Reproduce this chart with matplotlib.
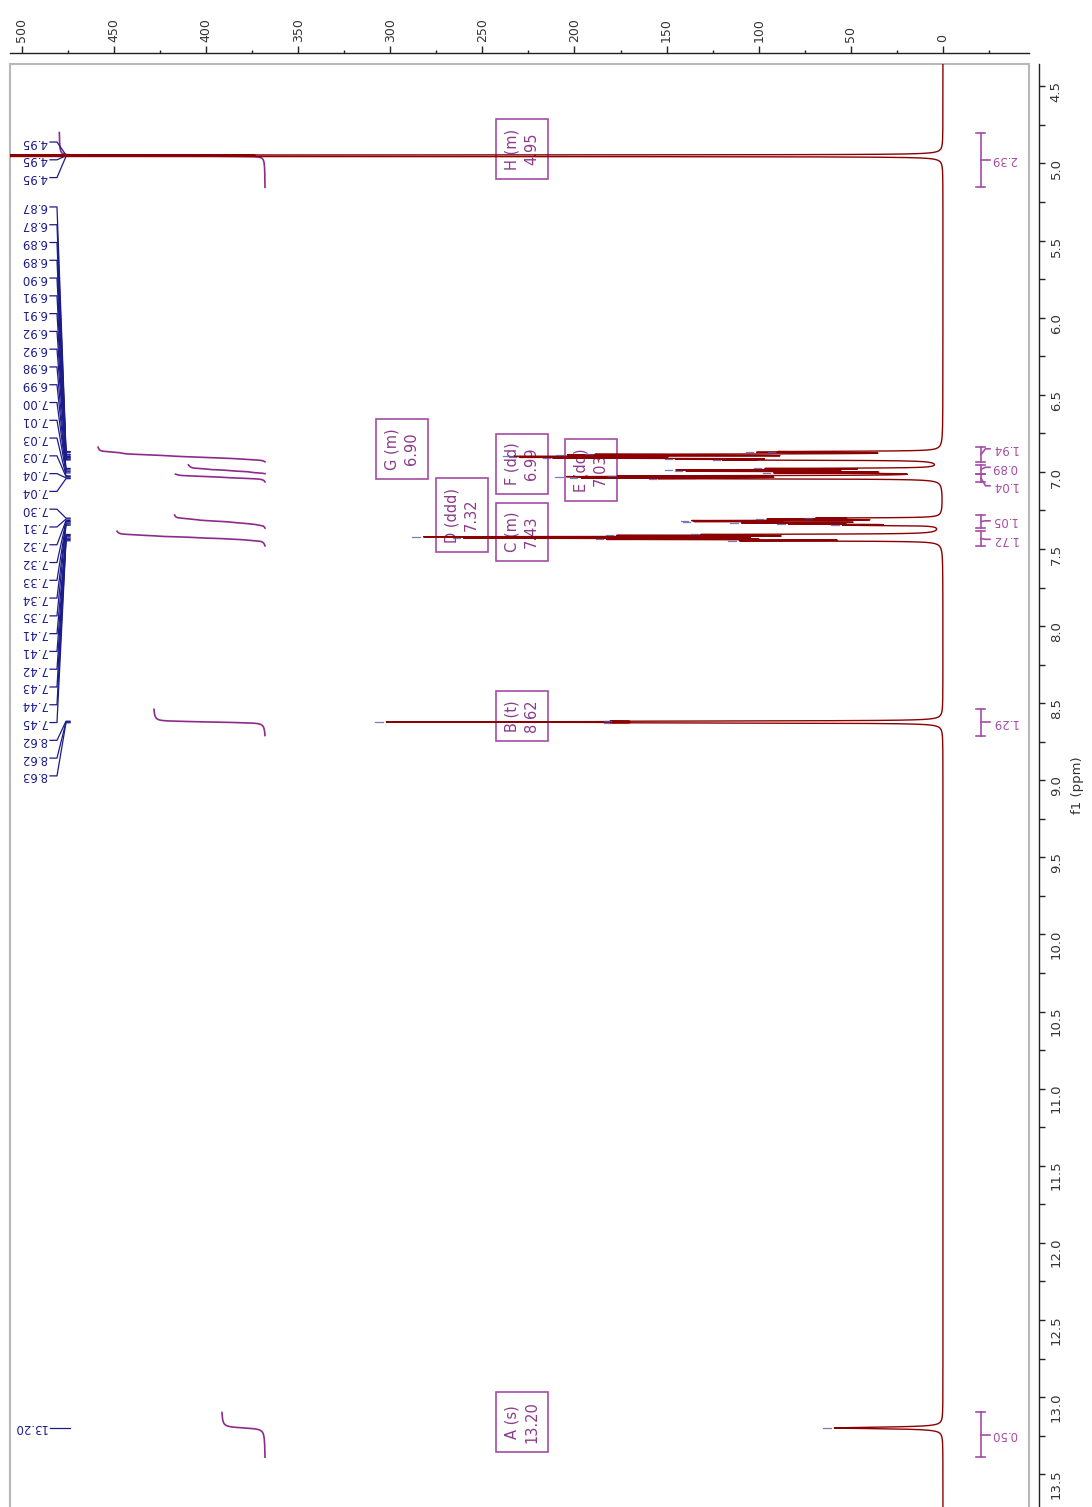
import numpy as np
import matplotlib
matplotlib.use("Agg")
import matplotlib.pyplot as plt
from matplotlib.ticker import MultipleLocator, FormatStrFormatter

# ---------------------------------------------------------------- data ----
# picked peaks: chemical shift (ppm), height (a.u.), Lorentzian half-width (ppm)
peak_shift = [4.946, 4.950, 4.954,
              6.868, 6.873, 6.886, 6.891, 6.900, 6.906, 6.911, 6.918, 6.923,
              6.978, 6.987, 6.996, 7.007,
              7.026, 7.031, 7.039, 7.044,
              7.300, 7.306, 7.316, 7.322, 7.331, 7.338, 7.346,
              7.406, 7.412, 7.421, 7.430, 7.438, 7.447,
              8.617, 8.622, 8.627,
              13.200]
peak_height = [900, 1800, 900,
               70, 80, 150, 160, 190, 170, 160, 105, 90,
               85, 130, 125, 80,
               140, 165, 160, 120,
               55, 80, 115, 112, 92, 68, 45,
               105, 145, 255, 230, 155, 95,
               130, 260, 130,
               59]
peak_width = [0.0008, 0.0008, 0.0008,
              0.0022, 0.0022, 0.0022, 0.0022, 0.0022, 0.0022, 0.0022, 0.0022, 0.0022,
              0.0022, 0.0022, 0.0022, 0.0022,
              0.0022, 0.0022, 0.0022, 0.0022,
              0.0022, 0.0022, 0.0022, 0.0022, 0.0022, 0.0022, 0.0022,
              0.0022, 0.0022, 0.0022, 0.0022, 0.0022, 0.0022,
              0.0022, 0.0022, 0.0022,
              0.006]

# multiplet analysis
mult_label = ["A", "B", "C", "D", "E", "F", "G", "H"]
mult_type = ["s", "t", "m", "ddd", "dd", "dd", "m", "m"]
mult_shift = [13.20, 8.62, 7.43, 7.32, 7.03, 6.99, 6.90, 4.95]
mult_integral = [0.50, 1.29, 1.72, 1.05, 1.04, 0.89, 1.94, 2.39]
int_from = [13.10, 8.54, 7.385, 7.28, 7.015, 6.955, 6.84, 4.80]
int_to = [13.39, 8.71, 7.48, 7.365, 7.065, 7.012, 6.935, 5.155]

# ------------------------------------------------------------- layout ----
W, H, DPI = 1092, 1507, 100
XLIM = (506.4, -46.7)          # intensity, drawn right-to-left
YLIM = (13.713, 4.355)         # ppm, drawn top-to-bottom

spec_color = "#8b0000"
int_color = "#8e2a8e"
box_edge = "#a64ca6"
box_text = "#8b3a8b"
navy = "#1b1b8a"
marker_blue = "#5a5aa8"
frame_grey = "#b8b8b8"

box_pos = {"A": (228.5, 13.161), "B": (228.5, 8.583), "C": (228.5, 7.390),
           "D": (261.1, 7.280), "E": (191.1, 6.988), "F": (228.5, 6.949),
           "G": (293.6, 6.851), "H": (228.5, 4.906)}

int_base = 368.0      # intensity level of the integral traces' zero
int_scale = 46.7      # intensity units per integral unit

brk_x, brk_cap, brk_tick, brk_text = -20.6, 2.4, -25.5, -26.1

pick_text_x = 486.3
pick_path_x = [484.7, 480.9, 476.0, 473.8]
pick_first = [4.861, 5.282, 13.200]   # first label position of each label column
pick_step = 0.1153


def spread(vals, gap):
    """Spread sorted positions so neighbours are at least `gap` apart."""
    groups = [[v] for v in vals]
    merged = True
    while merged:
        merged = False
        out = [groups[0]]
        for g in groups[1:]:
            prev = out[-1]
            p_end = np.mean(prev) + gap * (len(prev) - 1) / 2
            g_start = np.mean(g) - gap * (len(g) - 1) / 2
            if g_start - p_end < gap:
                out[-1] = prev + g
                merged = True
            else:
                out.append(g)
        groups = out
    pos = []
    for g in groups:
        c = np.mean(g)
        pos += list(c + gap * (np.arange(len(g)) - (len(g) - 1) / 2))
    return pos


# ------------------------------------------------------------ spectrum ----
grid = np.union1d(np.arange(4.30, 13.80, 0.0002), np.array(peak_shift))
spec = np.zeros_like(grid)
for p, h, w in zip(peak_shift, peak_height, peak_width):
    spec += h * w ** 2 / ((grid - p) ** 2 + w ** 2)

fig = plt.figure(figsize=(W / DPI, H / DPI), dpi=DPI)
ax = fig.add_axes([10 / W, 0, 1019 / W, (H - 64) / H])

ax.plot(spec, grid, color=spec_color, lw=1.0, zorder=3)

# integral traces
for val, lo, hi in zip(mult_integral, int_from, int_to):
    m = (grid >= lo) & (grid <= hi)
    g, s = grid[m], spec[m]
    cum = np.concatenate([[0.0], np.cumsum(0.5 * (s[1:] + s[:-1]) * np.diff(g))])
    frac = (cum[-1] - cum) / cum[-1]
    ax.plot(int_base + int_scale * val * frac, g, color=int_color, lw=1.2, zorder=2)

# integral brackets with values
order = np.argsort([(a + b) / 2 for a, b in zip(int_from, int_to)])
mids = [(int_from[i] + int_to[i]) / 2 for i in order]
lab_y = dict(zip(order, spread(mids, 0.12)))
for i, (val, lo, hi) in enumerate(zip(mult_integral, int_from, int_to)):
    mid = (lo + hi) / 2
    kw = dict(color=box_edge, lw=1.2, zorder=2)
    ax.plot([brk_x, brk_x], [lo, hi], **kw)
    ax.plot([brk_x - brk_cap, brk_x + brk_cap], [lo, lo], **kw)
    ax.plot([brk_x - brk_cap, brk_x + brk_cap], [hi, hi], **kw)
    ax.plot([brk_x, brk_x - 2.5, brk_tick], [mid, lab_y[i], lab_y[i]], **kw)
    ax.text(brk_text, lab_y[i], f"{val:.2f}", rotation=180, ha="left",
            va="center", color=box_edge, fontsize=8.5)

# multiplet boxes
for lab, typ, sh in zip(mult_label, mult_type, mult_shift):
    bx, by = box_pos[lab]
    ax.text(bx, by, f"{lab} ({typ})\n{sh:.2f}", rotation=90, ha="center",
            va="center", multialignment="center", fontsize=10.5,
            linespacing=1.35, color=box_text, zorder=2,
            bbox=dict(boxstyle="square,pad=0.62", fc="none", ec=box_edge, lw=1.2))

# peak-picking labels, grouped into columns of stacked labels
sorted_peaks = sorted(peak_shift)
columns = [[sorted_peaks[0]]]
for p in sorted_peaks[1:]:
    if p - columns[-1][-1] > 1.5:
        columns.append([p])
    else:
        columns[-1].append(p)
for col, first in zip(columns, pick_first):
    for k, p in enumerate(col):
        ly = first + k * pick_step
        ax.text(pick_text_x, ly, f"{p:.2f}", rotation=180, ha="right",
                va="center", color=navy, fontsize=8.5)
        ax.plot(pick_path_x, [ly, ly, p, p], color=navy, lw=0.9, zorder=2)

# peak-top markers
for p in peak_shift:
    top = spec[np.searchsorted(grid, p)]
    if top + 6 < XLIM[0]:
        ax.plot([top + 2.0, top + 6.0], [p, p], color=marker_blue, lw=0.9,
                alpha=0.8, zorder=4)

# plot frame
for xs, ys in [([0, 0], [0, 1]), ([0, 1], [1, 1]), ([1, 1], [1, 0])]:
    ax.plot(xs, ys, transform=ax.transAxes, color=frame_grey, lw=1.5,
            clip_on=False, zorder=1)

# ---------------------------------------------------------------- axes ----
ax.set_xlim(*XLIM)
ax.set_ylim(*YLIM)

for side in ("left", "bottom"):
    ax.spines[side].set_visible(False)
ax.spines["top"].set_position(("outward", 8))
ax.spines["right"].set_position(("outward", 7))
for side in ("top", "right"):
    ax.spines[side].set_color("#222222")
    ax.spines[side].set_linewidth(1.0)

ax.xaxis.set_major_locator(MultipleLocator(50))
ax.xaxis.set_minor_locator(MultipleLocator(25))
ax.xaxis.set_major_formatter(FormatStrFormatter("%d"))
ax.yaxis.set_major_locator(MultipleLocator(0.5))
ax.yaxis.set_minor_locator(MultipleLocator(0.25))
ax.yaxis.set_major_formatter(FormatStrFormatter("%.1f"))

ax.tick_params(axis="x", which="both", top=True, bottom=False, labeltop=True,
               labelbottom=False, direction="out", color="#222222")
ax.tick_params(axis="x", which="major", length=5, width=1, pad=2.5,
               labelsize=9, labelrotation=90, labelcolor="#333333")
ax.tick_params(axis="x", which="minor", length=2.5, width=1)
ax.tick_params(axis="y", which="both", right=True, left=False, labelright=True,
               labelleft=False, direction="out", color="#222222",
               length=4, width=1)
ax.tick_params(axis="y", which="major", pad=4, labelsize=9.5,
               labelrotation=90, labelcolor="#333333")

ax.yaxis.set_label_position("right")
ax.set_ylabel("f1 (ppm)", fontsize=9.5, color="#333333", labelpad=6)

fig.savefig("out.png", dpi=DPI)
